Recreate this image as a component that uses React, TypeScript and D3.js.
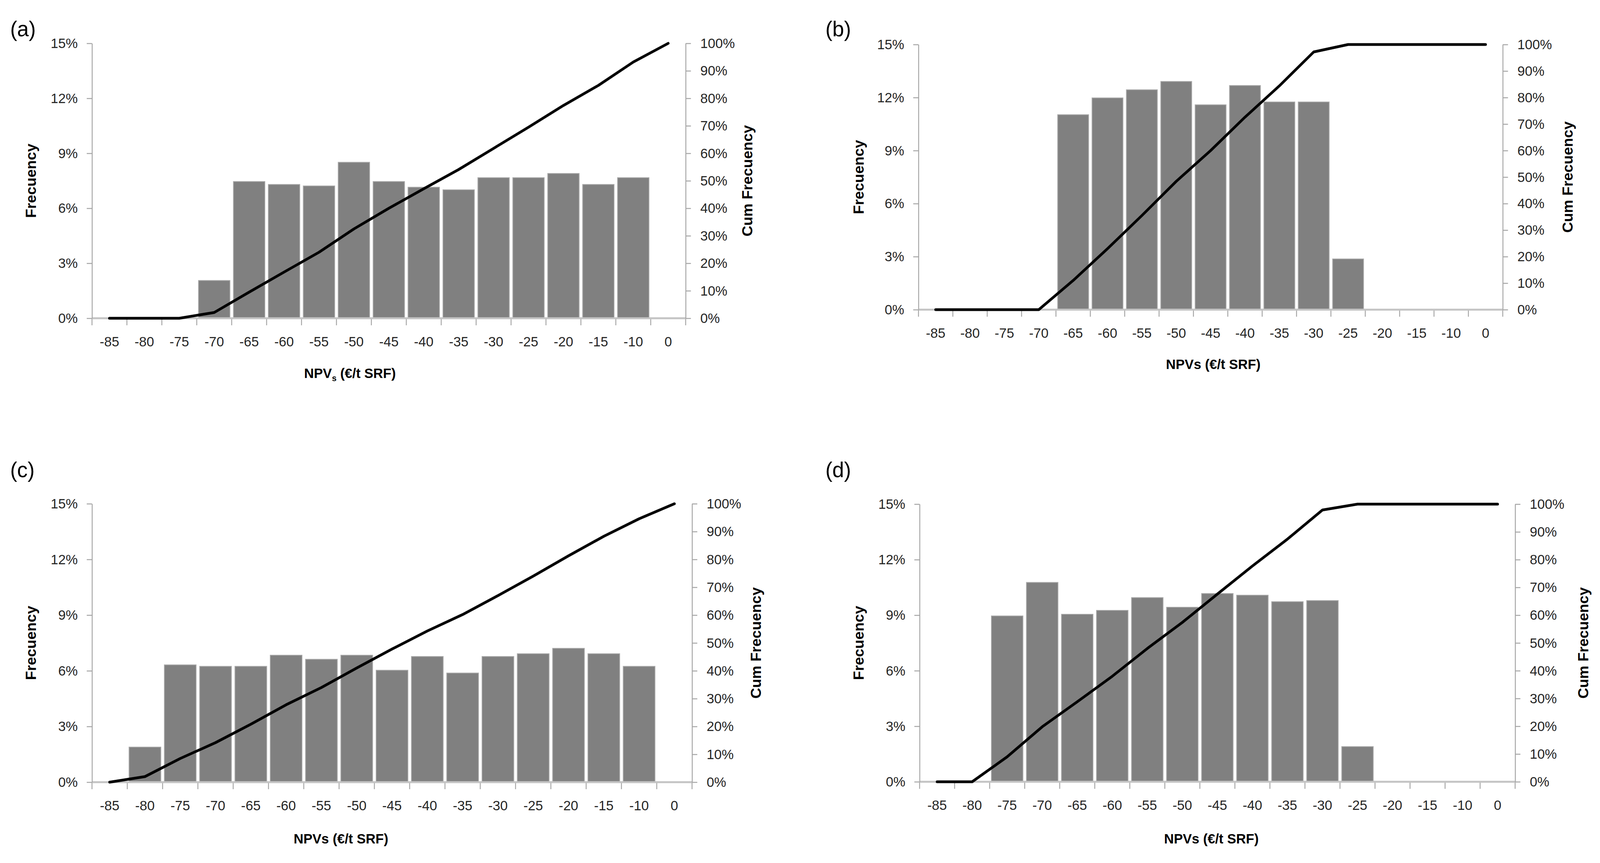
import { useEffect, useRef } from 'react';
import * as d3 from 'd3';

// bin labels shared by all four histograms
const categories = ['-85', '-80', '-75', '-70', '-65', '-60', '-55', '-50', '-45', '-40', '-35', '-30', '-25', '-20', '-15', '-10', '0'];
const freqTicks = [0, 3, 6, 9, 12, 15];
const cumTicks = [0, 10, 20, 30, 40, 50, 60, 70, 80, 90, 100];

// frequency (%) and cumulative frequency (%) per bin
const freqA = [0, 0, 0, 2.06, 7.46, 7.3, 7.22, 8.51, 7.46, 7.15, 7.01, 7.67, 7.67, 7.9, 7.3, 7.67, 0];
const cumA = [0, 0, 0, 2.1, 9.5, 16.8, 24.0, 32.5, 40.0, 47.1, 54.1, 61.8, 69.5, 77.4, 84.7, 93.2, 100];

const freqB = [0, 0, 0, 0, 11.03, 11.98, 12.44, 12.91, 11.59, 12.68, 11.75, 11.75, 2.87, 0, 0, 0, 0];
const cumB = [0, 0, 0, 0, 11.0, 23.0, 35.5, 48.4, 60.0, 72.6, 84.4, 97.2, 100, 100, 100, 100, 100];

const freqC = [0, 1.89, 6.32, 6.24, 6.24, 6.84, 6.62, 6.84, 6.03, 6.77, 5.88, 6.77, 6.92, 7.21, 6.92, 6.24, 0];
const cumC = [0, 2.0, 8.5, 14.2, 20.8, 27.8, 34.0, 41.0, 47.8, 54.3, 60.2, 67.0, 74.0, 81.3, 88.3, 94.6, 100];

const freqD = [0, 0, 8.96, 10.77, 9.05, 9.26, 9.95, 9.43, 10.17, 10.08, 9.73, 9.79, 1.9, 0, 0, 0, 0];
const cumD = [0, 0, 9.0, 19.8, 28.8, 38.0, 48.0, 57.4, 67.6, 77.7, 87.4, 97.9, 100, 100, 100, 100, 100];

const FONT = 'Liberation Sans, Arial, sans-serif';
const W = 4261;
const H = 2210;

interface Panel {
  label: string;
  freq: number[];
  cum: number[];
  left: number;
  right: number;
  top: number;
  bottom: number;
  labelX: number;
  labelY: number;
  titleX: number;
  titleY: number;
  subscript: boolean;
  yTitleX: number;
  cumTitleX: number;
}

const panels: Panel[] = [
  { label: '(a)', freq: freqA, cum: cumA, left: 245, right: 1826, top: 111, bottom: 815, labelX: 27, labelY: 93, titleX: 932, titleY: 968, subscript: true, yTitleX: 82, cumTitleX: 1990 },
  { label: '(b)', freq: freqB, cum: cumB, left: 2446, right: 4002, top: 114, bottom: 793, labelX: 2198, labelY: 93, titleX: 3231, titleY: 945, subscript: false, yTitleX: 2287, cumTitleX: 4175 },
  { label: '(c)', freq: freqC, cum: cumC, left: 245, right: 1843, top: 1290, bottom: 2003, labelX: 27, labelY: 1222, titleX: 908, titleY: 2160, subscript: false, yTitleX: 82, cumTitleX: 2013 },
  { label: '(d)', freq: freqD, cum: cumD, left: 2449, right: 4035, top: 1291, bottom: 2002, labelX: 2198, labelY: 1222, titleX: 3226, titleY: 2160, subscript: false, yTitleX: 2287, cumTitleX: 4217 },
];

export default function App() {
  const svgRef = useRef<SVGSVGElement>(null);

  useEffect(() => {
    document.body.style.margin = '0';
    document.body.style.overflow = 'hidden';
    const svg = d3.select(svgRef.current);
    if (!svg.node()) return;
    svg.selectAll('*').remove();

    panels.forEach((p) => {
      const g = svg.append('g');
      const x = d3.scaleBand<string>().domain(categories).range([p.left, p.right]);
      const bw = x.bandwidth();
      const yF = d3.scaleLinear().domain([0, 15]).range([p.bottom, p.top]);
      const yC = d3.scaleLinear().domain([0, 100]).range([p.bottom, p.top]);

      const barData = categories.map((c, i) => ({ c, v: p.freq[i] })).filter((d) => d.v > 0);

      // bars
      g.selectAll('rect.bar')
        .data(barData)
        .join('rect')
        .attr('class', 'bar')
        .attr('x', (d) => x(d.c)! + bw * 0.05)
        .attr('width', bw * 0.9)
        .attr('y', (d) => yF(d.v))
        .attr('height', (d) => p.bottom - yF(d.v))
        .attr('fill', '#808080')
        .attr('stroke', '#a9a9a9')
        .attr('stroke-width', 2);

      // x baseline + ticks at bin edges
      const edges = categories.map((c) => x(c)!).concat([p.right]);
      g.selectAll('line.xtick')
        .data(edges)
        .join('line')
        .attr('x1', (d) => d)
        .attr('x2', (d) => d)
        .attr('y1', p.bottom)
        .attr('y2', p.bottom + 18)
        .attr('stroke', '#a6a6a6')
        .attr('stroke-width', 2.5);
      g.append('line')
        .attr('x1', p.left)
        .attr('x2', p.right)
        .attr('y1', p.bottom)
        .attr('y2', p.bottom)
        .attr('stroke', '#c4c4c4')
        .attr('stroke-width', 5);

      g.selectAll('text.xlab')
        .data(categories)
        .join('text')
        .attr('x', (d) => x(d)! + bw / 2)
        .attr('y', p.bottom + 72)
        .attr('text-anchor', 'middle')
        .attr('font-family', FONT)
        .attr('font-size', 36)
        .attr('fill', '#262626')
        .text((d) => d);

      // left axis
      g.append('g')
        .attr('transform', `translate(${p.left},0)`)
        .call(d3.axisLeft(yF).tickValues(freqTicks).tickFormat((v) => `${v}%`).tickSize(14).tickSizeOuter(0).tickPadding(24))
        .call((sel) => sel.select('.domain').attr('stroke', '#a6a6a6').attr('stroke-width', 2.5))
        .call((sel) => sel.selectAll('line').attr('stroke', '#a6a6a6').attr('stroke-width', 2.5))
        .call((sel) => sel.selectAll('text').attr('font-family', FONT).attr('font-size', 36).attr('fill', '#262626'));

      // right axis
      g.append('g')
        .attr('transform', `translate(${p.right},0)`)
        .call(d3.axisRight(yC).tickValues(cumTicks).tickFormat((v) => `${v}%`).tickSize(14).tickSizeOuter(0).tickPadding(25))
        .call((sel) => sel.select('.domain').attr('stroke', '#a6a6a6').attr('stroke-width', 2.5))
        .call((sel) => sel.selectAll('line').attr('stroke', '#a6a6a6').attr('stroke-width', 2.5))
        .call((sel) => sel.selectAll('text').attr('font-family', FONT).attr('font-size', 36).attr('fill', '#262626'));

      // cumulative line
      const line = d3
        .line<number>()
        .x((_, i) => x(categories[i])! + bw / 2)
        .y((d) => yC(d));
      g.append('path')
        .attr('d', line(p.cum))
        .attr('fill', 'none')
        .attr('stroke', '#000')
        .attr('stroke-width', 7)
        .attr('stroke-linejoin', 'round')
        .attr('stroke-linecap', 'round');

      // panel label
      g.append('text')
        .attr('x', p.labelX)
        .attr('y', p.labelY)
        .attr('font-family', FONT)
        .attr('font-size', 56)
        .attr('fill', '#000')
        .text(p.label);

      // axis titles
      const title = g
        .append('text')
        .attr('x', p.titleX)
        .attr('y', p.titleY)
        .attr('text-anchor', 'middle')
        .attr('font-family', FONT)
        .attr('font-size', 36)
        .attr('font-weight', 'bold')
        .attr('fill', '#000');
      if (p.subscript) {
        title.append('tspan').text('NPV');
        title.append('tspan').attr('font-size', 22).attr('dy', 8).text('s');
        title.append('tspan').attr('dy', -8).text(' (€/t SRF)');
      } else {
        title.text('NPVs (€/t SRF)');
      }

      const midY = (p.top + p.bottom) / 2;
      g.append('text')
        .attr('transform', `translate(${p.yTitleX},${midY}) rotate(-90)`)
        .attr('text-anchor', 'middle')
        .attr('dy', '0.35em')
        .attr('font-family', FONT)
        .attr('font-size', 38)
        .attr('font-weight', 'bold')
        .attr('fill', '#000')
        .text('Frecuency');

      g.append('text')
        .attr('transform', `translate(${p.cumTitleX},${midY}) rotate(-90)`)
        .attr('text-anchor', 'middle')
        .attr('dy', '0.35em')
        .attr('font-family', FONT)
        .attr('font-size', 38)
        .attr('font-weight', 'bold')
        .attr('fill', '#000')
        .text('Cum Frecuency');
    });
  }, []);

  return (
    <svg
      ref={svgRef}
      viewBox={`0 0 ${W} ${H}`}
      preserveAspectRatio="none"
      style={{ display: 'block', width: '100vw', height: '100vh', background: '#fff' }}
    />
  );
}
